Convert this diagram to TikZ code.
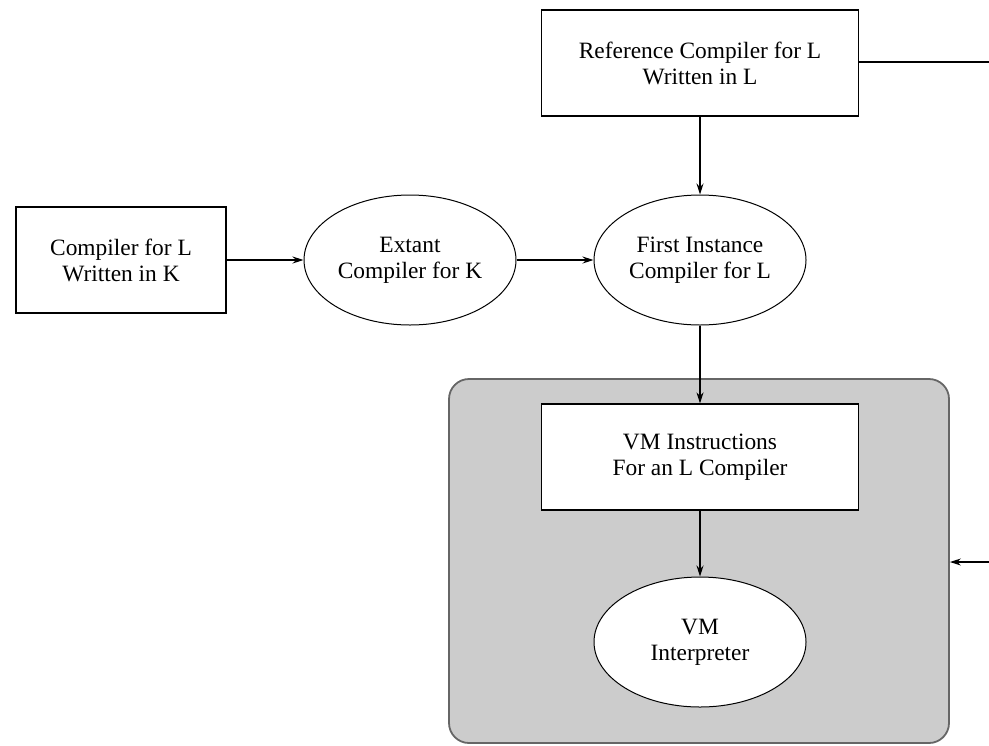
\documentclass[tikz,border=0pt]{standalone}
\usepackage{fontspec}
\setmainfont{Liberation Serif}
\usetikzlibrary{shapes.geometric,arrows.meta}
\begin{document}
\begin{tikzpicture}[x=0.5pt,y=-0.5pt,
  txt/.style={align=center,font=\fontsize{11.7}{13}\selectfont,inner sep=0pt},
  boxnode/.style={txt,draw,line width=0.6pt,rectangle,fill=white},
  ellnode/.style={txt,draw,line width=0.5pt,ellipse,fill=white,minimum width=106pt,minimum height=65pt},
  conn/.style={line width=0.6pt,-{Stealth[length=5.5pt,width=3.5pt]}},
  plain/.style={line width=0.6pt}]
\useasboundingbox (0,0) rectangle (989,745);
% gray container
\node[draw=black!60,line width=0.9pt,fill=black!20,rounded corners=10pt,
  minimum width=250pt,minimum height=182pt,inner sep=0pt] (vmbox) at (699,561) {};
\node[boxnode,minimum width=105pt,minimum height=53pt] (ck) at (121,260) {Compiler for L\\Written in K};
\node[ellnode] (ext) at (410,260) {Extant\\Compiler for K};
\node[ellnode] (fi) at (700,260) {First Instance\\Compiler for L};
\node[boxnode,minimum width=158.5pt,minimum height=53pt] (ref) at (700,63) {Reference Compiler for L\\Written in L};
\node[boxnode,minimum width=158.5pt,minimum height=53pt] (vmi) at (700,457) {VM Instructions\\For an L Compiler};
\node[ellnode] (vmint) at (700,642) {VM\\Interpreter};
\coordinate (outR) at (989,62);
\coordinate (inR) at (989,562);
\draw[conn] (ck.east) -- (ext.west);
\draw[conn] (ext.east) -- (fi.west);
\draw[conn] (ref.south) -- (fi.north);
\draw[conn] (fi.south) -- (vmi.north);
\draw[conn] (vmi.south) -- (vmint.north);
\draw[plain] (ref.east |- outR) -- (outR);
\draw[conn] (inR) -- (vmbox.east |- inR);
\end{tikzpicture}
\end{document}
